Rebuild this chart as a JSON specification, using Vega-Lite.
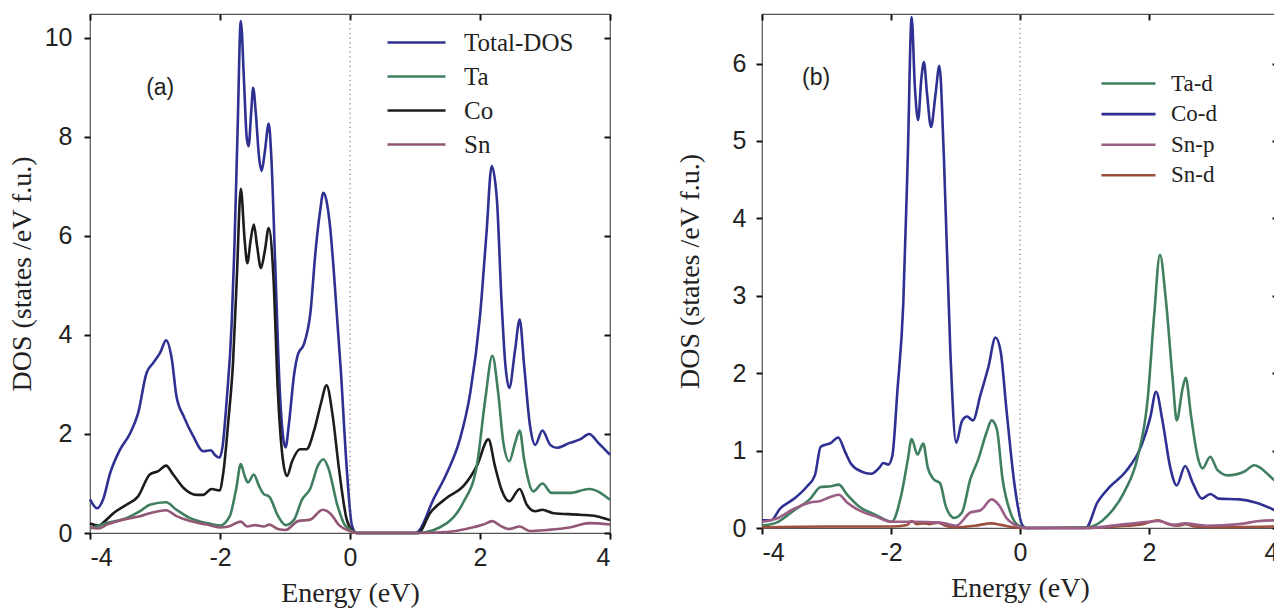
{
  "$schema": "https://vega.github.io/schema/vega-lite/v6.json",
  "background": "white",
  "padding": {"left": 7, "top": 11, "right": 0, "bottom": 0},
  "bounds": "flush",
  "spacing": 152,
  "config": {
    "locale": {"number": {"decimal": ".", "thousands": ",", "grouping": [3], "currency": ["$", ""], "minus": "-"}},
    "view": {"stroke": "#555555", "strokeWidth": 1.2},
    "font": "Liberation Sans",
    "axis": {
      "grid": false, "domain": false, "tickColor": "#111111", "tickWidth": 2, "tickSize": 6,
      "labelFont": "Liberation Sans", "labelFontSize": 25, "labelColor": "#222222",
      "titleFont": "Liberation Serif", "titleFontSize": 28, "titleFontWeight": "normal", "titleColor": "#222222"
    },
    "legend": {
      "orient": "none", "direction": "vertical", "padding": 0, "title": null,
      "symbolType": "M-3,0H3", "symbolStrokeWidth": 2.6,
      "labelFont": "Liberation Serif", "labelColor": "#222222"
    }
  },
  "datasets": {
    "a": [
      {"s":"Total-DOS","E":-4.0,"D":0.68},{"s":"Total-DOS","E":-3.89,"D":0.5},{"s":"Total-DOS","E":-3.8,"D":0.67},{"s":"Total-DOS","E":-3.69,"D":1.21},{"s":"Total-DOS","E":-3.54,"D":1.68},{"s":"Total-DOS","E":-3.38,"D":2.02},{"s":"Total-DOS","E":-3.26,"D":2.42},{"s":"Total-DOS","E":-3.13,"D":3.23},{"s":"Total-DOS","E":-3.03,"D":3.43},{"s":"Total-DOS","E":-2.92,"D":3.64},{"s":"Total-DOS","E":-2.83,"D":3.89},{"s":"Total-DOS","E":-2.74,"D":3.5},{"s":"Total-DOS","E":-2.67,"D":2.76},{"s":"Total-DOS","E":-2.56,"D":2.36},{"s":"Total-DOS","E":-2.41,"D":1.95},{"s":"Total-DOS","E":-2.26,"D":1.65},{"s":"Total-DOS","E":-2.14,"D":1.67},{"s":"Total-DOS","E":-2.08,"D":1.58},{"s":"Total-DOS","E":-2.01,"D":1.52},{"s":"Total-DOS","E":-1.96,"D":1.75},{"s":"Total-DOS","E":-1.9,"D":2.63},{"s":"Total-DOS","E":-1.82,"D":4.24},{"s":"Total-DOS","E":-1.78,"D":5.7},{"s":"Total-DOS","E":-1.73,"D":8.1},{"s":"Total-DOS","E":-1.68,"D":10.34},{"s":"Total-DOS","E":-1.63,"D":9.1},{"s":"Total-DOS","E":-1.59,"D":8.0},{"s":"Total-DOS","E":-1.56,"D":7.81},{"s":"Total-DOS","E":-1.52,"D":8.5},{"s":"Total-DOS","E":-1.49,"D":8.99},{"s":"Total-DOS","E":-1.45,"D":8.5},{"s":"Total-DOS","E":-1.4,"D":7.6},{"s":"Total-DOS","E":-1.36,"D":7.31},{"s":"Total-DOS","E":-1.31,"D":7.7},{"s":"Total-DOS","E":-1.25,"D":8.27},{"s":"Total-DOS","E":-1.21,"D":7.58},{"s":"Total-DOS","E":-1.15,"D":5.4},{"s":"Total-DOS","E":-1.08,"D":2.87},{"s":"Total-DOS","E":-1.02,"D":1.85},{"s":"Total-DOS","E":-0.99,"D":1.73},{"s":"Total-DOS","E":-0.94,"D":2.2},{"s":"Total-DOS","E":-0.86,"D":3.2},{"s":"Total-DOS","E":-0.8,"D":3.61},{"s":"Total-DOS","E":-0.71,"D":3.81},{"s":"Total-DOS","E":-0.61,"D":4.44},{"s":"Total-DOS","E":-0.53,"D":5.69},{"s":"Total-DOS","E":-0.46,"D":6.5},{"s":"Total-DOS","E":-0.41,"D":6.87},{"s":"Total-DOS","E":-0.36,"D":6.7},{"s":"Total-DOS","E":-0.3,"D":6.1},{"s":"Total-DOS","E":-0.25,"D":5.3},{"s":"Total-DOS","E":-0.14,"D":3.26},{"s":"Total-DOS","E":-0.05,"D":1.3},{"s":"Total-DOS","E":0.03,"D":0.15},{"s":"Total-DOS","E":0.1,"D":0.0},{"s":"Total-DOS","E":1.0,"D":0.0},{"s":"Total-DOS","E":1.05,"D":0.03},{"s":"Total-DOS","E":1.28,"D":0.67},{"s":"Total-DOS","E":1.49,"D":1.21},{"s":"Total-DOS","E":1.69,"D":1.89},{"s":"Total-DOS","E":1.85,"D":2.83},{"s":"Total-DOS","E":2.0,"D":4.38},{"s":"Total-DOS","E":2.1,"D":6.06},{"s":"Total-DOS","E":2.18,"D":7.41},{"s":"Total-DOS","E":2.26,"D":6.73},{"s":"Total-DOS","E":2.33,"D":4.71},{"s":"Total-DOS","E":2.39,"D":3.4},{"s":"Total-DOS","E":2.45,"D":2.93},{"s":"Total-DOS","E":2.54,"D":3.7},{"s":"Total-DOS","E":2.61,"D":4.31},{"s":"Total-DOS","E":2.68,"D":3.37},{"s":"Total-DOS","E":2.77,"D":2.16},{"s":"Total-DOS","E":2.85,"D":1.78},{"s":"Total-DOS","E":2.96,"D":2.07},{"s":"Total-DOS","E":3.08,"D":1.78},{"s":"Total-DOS","E":3.18,"D":1.72},{"s":"Total-DOS","E":3.38,"D":1.82},{"s":"Total-DOS","E":3.54,"D":1.89},{"s":"Total-DOS","E":3.68,"D":2.0},{"s":"Total-DOS","E":3.82,"D":1.82},{"s":"Total-DOS","E":4.0,"D":1.58},

      {"s":"Co","E":-4.0,"D":0.19},{"s":"Co","E":-3.87,"D":0.15},{"s":"Co","E":-3.77,"D":0.24},{"s":"Co","E":-3.64,"D":0.4},{"s":"Co","E":-3.44,"D":0.57},{"s":"Co","E":-3.26,"D":0.74},{"s":"Co","E":-3.08,"D":1.18},{"s":"Co","E":-2.95,"D":1.25},{"s":"Co","E":-2.83,"D":1.36},{"s":"Co","E":-2.72,"D":1.18},{"s":"Co","E":-2.56,"D":0.91},{"s":"Co","E":-2.36,"D":0.77},{"s":"Co","E":-2.26,"D":0.77},{"s":"Co","E":-2.13,"D":0.89},{"s":"Co","E":-2.01,"D":0.86},{"s":"Co","E":-1.95,"D":1.21},{"s":"Co","E":-1.87,"D":2.29},{"s":"Co","E":-1.8,"D":3.43},{"s":"Co","E":-1.74,"D":5.2},{"s":"Co","E":-1.68,"D":6.95},{"s":"Co","E":-1.62,"D":5.9},{"s":"Co","E":-1.58,"D":5.45},{"s":"Co","E":-1.53,"D":5.9},{"s":"Co","E":-1.48,"D":6.23},{"s":"Co","E":-1.43,"D":5.8},{"s":"Co","E":-1.37,"D":5.35},{"s":"Co","E":-1.31,"D":5.7},{"s":"Co","E":-1.25,"D":6.16},{"s":"Co","E":-1.18,"D":5.22},{"s":"Co","E":-1.11,"D":2.87},{"s":"Co","E":-1.03,"D":1.45},{"s":"Co","E":-0.97,"D":1.15},{"s":"Co","E":-0.89,"D":1.45},{"s":"Co","E":-0.77,"D":1.69},{"s":"Co","E":-0.67,"D":1.69},{"s":"Co","E":-0.55,"D":2.08},{"s":"Co","E":-0.45,"D":2.6},{"s":"Co","E":-0.36,"D":2.98},{"s":"Co","E":-0.27,"D":2.4},{"s":"Co","E":-0.17,"D":1.3},{"s":"Co","E":-0.05,"D":0.27},{"s":"Co","E":0.05,"D":0.03},{"s":"Co","E":0.1,"D":0.0},{"s":"Co","E":1.05,"D":0.0},{"s":"Co","E":1.23,"D":0.4},{"s":"Co","E":1.49,"D":0.71},{"s":"Co","E":1.74,"D":0.94},{"s":"Co","E":1.95,"D":1.35},{"s":"Co","E":2.13,"D":1.89},{"s":"Co","E":2.23,"D":1.35},{"s":"Co","E":2.33,"D":0.88},{"s":"Co","E":2.45,"D":0.64},{"s":"Co","E":2.61,"D":0.89},{"s":"Co","E":2.72,"D":0.57},{"s":"Co","E":2.85,"D":0.44},{"s":"Co","E":2.96,"D":0.47},{"s":"Co","E":3.13,"D":0.4},{"s":"Co","E":3.54,"D":0.37},{"s":"Co","E":3.79,"D":0.34},{"s":"Co","E":4.0,"D":0.26},

      {"s":"Ta","E":-4.0,"D":0.09},{"s":"Ta","E":-3.74,"D":0.2},{"s":"Ta","E":-3.44,"D":0.3},{"s":"Ta","E":-3.23,"D":0.44},{"s":"Ta","E":-3.08,"D":0.57},{"s":"Ta","E":-2.83,"D":0.62},{"s":"Ta","E":-2.67,"D":0.47},{"s":"Ta","E":-2.46,"D":0.3},{"s":"Ta","E":-2.2,"D":0.2},{"s":"Ta","E":-2.0,"D":0.15},{"s":"Ta","E":-1.85,"D":0.34},{"s":"Ta","E":-1.75,"D":0.9},{"s":"Ta","E":-1.68,"D":1.39},{"s":"Ta","E":-1.62,"D":1.15},{"s":"Ta","E":-1.57,"D":1.02},{"s":"Ta","E":-1.48,"D":1.18},{"s":"Ta","E":-1.4,"D":0.95},{"s":"Ta","E":-1.33,"D":0.79},{"s":"Ta","E":-1.24,"D":0.73},{"s":"Ta","E":-1.11,"D":0.35},{"s":"Ta","E":-0.99,"D":0.16},{"s":"Ta","E":-0.86,"D":0.27},{"s":"Ta","E":-0.74,"D":0.67},{"s":"Ta","E":-0.61,"D":0.9},{"s":"Ta","E":-0.49,"D":1.37},{"s":"Ta","E":-0.41,"D":1.49},{"s":"Ta","E":-0.33,"D":1.3},{"s":"Ta","E":-0.2,"D":0.59},{"s":"Ta","E":-0.08,"D":0.16},{"s":"Ta","E":0.05,"D":0.03},{"s":"Ta","E":0.1,"D":0.0},{"s":"Ta","E":1.05,"D":0.0},{"s":"Ta","E":1.49,"D":0.2},{"s":"Ta","E":1.74,"D":0.61},{"s":"Ta","E":1.95,"D":1.35},{"s":"Ta","E":2.08,"D":2.69},{"s":"Ta","E":2.19,"D":3.58},{"s":"Ta","E":2.28,"D":2.83},{"s":"Ta","E":2.36,"D":1.82},{"s":"Ta","E":2.45,"D":1.45},{"s":"Ta","E":2.54,"D":1.82},{"s":"Ta","E":2.61,"D":2.07},{"s":"Ta","E":2.68,"D":1.48},{"s":"Ta","E":2.82,"D":0.84},{"s":"Ta","E":2.96,"D":1.0},{"s":"Ta","E":3.1,"D":0.81},{"s":"Ta","E":3.38,"D":0.81},{"s":"Ta","E":3.68,"D":0.89},{"s":"Ta","E":4.0,"D":0.67},

      {"s":"Sn","E":-4.0,"D":0.11},{"s":"Sn","E":-3.87,"D":0.09},{"s":"Sn","E":-3.74,"D":0.17},{"s":"Sn","E":-3.49,"D":0.27},{"s":"Sn","E":-3.23,"D":0.34},{"s":"Sn","E":-3.08,"D":0.4},{"s":"Sn","E":-2.83,"D":0.46},{"s":"Sn","E":-2.67,"D":0.34},{"s":"Sn","E":-2.46,"D":0.24},{"s":"Sn","E":-2.2,"D":0.17},{"s":"Sn","E":-2.0,"D":0.11},{"s":"Sn","E":-1.87,"D":0.13},{"s":"Sn","E":-1.68,"D":0.23},{"s":"Sn","E":-1.58,"D":0.13},{"s":"Sn","E":-1.46,"D":0.16},{"s":"Sn","E":-1.33,"D":0.13},{"s":"Sn","E":-1.24,"D":0.17},{"s":"Sn","E":-1.11,"D":0.08},{"s":"Sn","E":-0.99,"D":0.06},{"s":"Sn","E":-0.8,"D":0.24},{"s":"Sn","E":-0.61,"D":0.27},{"s":"Sn","E":-0.42,"D":0.47},{"s":"Sn","E":-0.3,"D":0.39},{"s":"Sn","E":-0.17,"D":0.16},{"s":"Sn","E":0.0,"D":0.04},{"s":"Sn","E":0.1,"D":0.0},{"s":"Sn","E":1.0,"D":0.0},{"s":"Sn","E":1.49,"D":0.02},{"s":"Sn","E":1.85,"D":0.1},{"s":"Sn","E":2.05,"D":0.17},{"s":"Sn","E":2.19,"D":0.24},{"s":"Sn","E":2.31,"D":0.15},{"s":"Sn","E":2.45,"D":0.08},{"s":"Sn","E":2.61,"D":0.13},{"s":"Sn","E":2.77,"D":0.04},{"s":"Sn","E":3.03,"D":0.06},{"s":"Sn","E":3.38,"D":0.11},{"s":"Sn","E":3.68,"D":0.2},{"s":"Sn","E":4.0,"D":0.17}
    ],
    "b": [
      {"s":"Co-d","E":-4.0,"D":0.1},{"s":"Co-d","E":-3.86,"D":0.1},{"s":"Co-d","E":-3.72,"D":0.25},{"s":"Co-d","E":-3.5,"D":0.38},{"s":"Co-d","E":-3.31,"D":0.53},{"s":"Co-d","E":-3.18,"D":0.68},{"s":"Co-d","E":-3.09,"D":1.05},{"s":"Co-d","E":-2.93,"D":1.1},{"s":"Co-d","E":-2.82,"D":1.17},{"s":"Co-d","E":-2.71,"D":0.98},{"s":"Co-d","E":-2.62,"D":0.83},{"s":"Co-d","E":-2.46,"D":0.73},{"s":"Co-d","E":-2.31,"D":0.7},{"s":"Co-d","E":-2.18,"D":0.78},{"s":"Co-d","E":-2.12,"D":0.84},{"s":"Co-d","E":-2.04,"D":0.82},{"s":"Co-d","E":-1.98,"D":0.93},{"s":"Co-d","E":-1.9,"D":1.78},{"s":"Co-d","E":-1.81,"D":2.89},{"s":"Co-d","E":-1.74,"D":4.79},{"s":"Co-d","E":-1.68,"D":6.6},{"s":"Co-d","E":-1.63,"D":5.7},{"s":"Co-d","E":-1.58,"D":5.27},{"s":"Co-d","E":-1.53,"D":5.8},{"s":"Co-d","E":-1.49,"D":6.02},{"s":"Co-d","E":-1.44,"D":5.6},{"s":"Co-d","E":-1.38,"D":5.18},{"s":"Co-d","E":-1.31,"D":5.6},{"s":"Co-d","E":-1.25,"D":5.97},{"s":"Co-d","E":-1.18,"D":4.79},{"s":"Co-d","E":-1.08,"D":2.28},{"s":"Co-d","E":-0.99,"D":1.1},{"s":"Co-d","E":-0.9,"D":1.38},{"s":"Co-d","E":-0.82,"D":1.44},{"s":"Co-d","E":-0.73,"D":1.39},{"s":"Co-d","E":-0.61,"D":1.73},{"s":"Co-d","E":-0.49,"D":2.08},{"s":"Co-d","E":-0.38,"D":2.46},{"s":"Co-d","E":-0.3,"D":2.28},{"s":"Co-d","E":-0.21,"D":1.53},{"s":"Co-d","E":-0.08,"D":0.53},{"s":"Co-d","E":0.04,"D":0.03},{"s":"Co-d","E":0.1,"D":0.0},{"s":"Co-d","E":1.02,"D":0.0},{"s":"Co-d","E":1.2,"D":0.33},{"s":"Co-d","E":1.39,"D":0.53},{"s":"Co-d","E":1.64,"D":0.73},{"s":"Co-d","E":1.89,"D":1.08},{"s":"Co-d","E":2.02,"D":1.43},{"s":"Co-d","E":2.11,"D":1.76},{"s":"Co-d","E":2.21,"D":1.38},{"s":"Co-d","E":2.33,"D":0.78},{"s":"Co-d","E":2.43,"D":0.55},{"s":"Co-d","E":2.56,"D":0.8},{"s":"Co-d","E":2.68,"D":0.58},{"s":"Co-d","E":2.82,"D":0.38},{"s":"Co-d","E":2.95,"D":0.44},{"s":"Co-d","E":3.08,"D":0.38},{"s":"Co-d","E":3.4,"D":0.37},{"s":"Co-d","E":3.65,"D":0.33},{"s":"Co-d","E":3.95,"D":0.23},{"s":"Co-d","E":4.0,"D":0.21},

      {"s":"Ta-d","E":-4.0,"D":0.03},{"s":"Ta-d","E":-3.75,"D":0.08},{"s":"Ta-d","E":-3.5,"D":0.23},{"s":"Ta-d","E":-3.25,"D":0.38},{"s":"Ta-d","E":-3.09,"D":0.53},{"s":"Ta-d","E":-2.93,"D":0.54},{"s":"Ta-d","E":-2.81,"D":0.56},{"s":"Ta-d","E":-2.68,"D":0.43},{"s":"Ta-d","E":-2.5,"D":0.28},{"s":"Ta-d","E":-2.24,"D":0.17},{"s":"Ta-d","E":-1.99,"D":0.08},{"s":"Ta-d","E":-1.84,"D":0.43},{"s":"Ta-d","E":-1.74,"D":0.88},{"s":"Ta-d","E":-1.68,"D":1.15},{"s":"Ta-d","E":-1.59,"D":0.95},{"s":"Ta-d","E":-1.5,"D":1.09},{"s":"Ta-d","E":-1.43,"D":0.78},{"s":"Ta-d","E":-1.34,"D":0.63},{"s":"Ta-d","E":-1.24,"D":0.58},{"s":"Ta-d","E":-1.15,"D":0.28},{"s":"Ta-d","E":-1.02,"D":0.13},{"s":"Ta-d","E":-0.9,"D":0.2},{"s":"Ta-d","E":-0.77,"D":0.63},{"s":"Ta-d","E":-0.65,"D":0.88},{"s":"Ta-d","E":-0.52,"D":1.23},{"s":"Ta-d","E":-0.44,"D":1.39},{"s":"Ta-d","E":-0.36,"D":1.28},{"s":"Ta-d","E":-0.27,"D":0.63},{"s":"Ta-d","E":-0.14,"D":0.18},{"s":"Ta-d","E":-0.02,"D":0.03},{"s":"Ta-d","E":0.1,"D":0.0},{"s":"Ta-d","E":1.05,"D":0.01},{"s":"Ta-d","E":1.36,"D":0.16},{"s":"Ta-d","E":1.62,"D":0.47},{"s":"Ta-d","E":1.82,"D":0.9},{"s":"Ta-d","E":1.98,"D":1.67},{"s":"Ta-d","E":2.08,"D":2.75},{"s":"Ta-d","E":2.17,"D":3.53},{"s":"Ta-d","E":2.26,"D":2.96},{"s":"Ta-d","E":2.37,"D":1.89},{"s":"Ta-d","E":2.43,"D":1.39},{"s":"Ta-d","E":2.52,"D":1.8},{"s":"Ta-d","E":2.57,"D":1.94},{"s":"Ta-d","E":2.65,"D":1.46},{"s":"Ta-d","E":2.76,"D":0.9},{"s":"Ta-d","E":2.83,"D":0.77},{"s":"Ta-d","E":2.95,"D":0.92},{"s":"Ta-d","E":3.06,"D":0.75},{"s":"Ta-d","E":3.22,"D":0.68},{"s":"Ta-d","E":3.48,"D":0.73},{"s":"Ta-d","E":3.63,"D":0.81},{"s":"Ta-d","E":3.94,"D":0.62},{"s":"Ta-d","E":4.0,"D":0.58},

      {"s":"Sn-d","E":-4.0,"D":0.01},{"s":"Sn-d","E":-3.0,"D":0.02},{"s":"Sn-d","E":-2.0,"D":0.02},{"s":"Sn-d","E":-1.75,"D":0.04},{"s":"Sn-d","E":-1.68,"D":0.09},{"s":"Sn-d","E":-1.6,"D":0.05},{"s":"Sn-d","E":-1.5,"D":0.06},{"s":"Sn-d","E":-1.4,"D":0.05},{"s":"Sn-d","E":-1.27,"D":0.07},{"s":"Sn-d","E":-1.15,"D":0.03},{"s":"Sn-d","E":-1.0,"D":0.01},{"s":"Sn-d","E":-0.7,"D":0.03},{"s":"Sn-d","E":-0.44,"D":0.06},{"s":"Sn-d","E":-0.3,"D":0.04},{"s":"Sn-d","E":-0.1,"D":0.01},{"s":"Sn-d","E":0.1,"D":0.0},{"s":"Sn-d","E":1.0,"D":0.0},{"s":"Sn-d","E":1.5,"D":0.02},{"s":"Sn-d","E":1.9,"D":0.05},{"s":"Sn-d","E":2.14,"D":0.1},{"s":"Sn-d","E":2.3,"D":0.05},{"s":"Sn-d","E":2.45,"D":0.03},{"s":"Sn-d","E":2.57,"D":0.05},{"s":"Sn-d","E":2.7,"D":0.02},{"s":"Sn-d","E":3.0,"D":0.01},{"s":"Sn-d","E":4.0,"D":0.02},

      {"s":"Sn-p","E":-4.0,"D":0.08},{"s":"Sn-p","E":-3.75,"D":0.13},{"s":"Sn-p","E":-3.5,"D":0.25},{"s":"Sn-p","E":-3.25,"D":0.33},{"s":"Sn-p","E":-3.09,"D":0.35},{"s":"Sn-p","E":-2.97,"D":0.39},{"s":"Sn-p","E":-2.81,"D":0.43},{"s":"Sn-p","E":-2.68,"D":0.33},{"s":"Sn-p","E":-2.5,"D":0.23},{"s":"Sn-p","E":-2.24,"D":0.15},{"s":"Sn-p","E":-1.99,"D":0.08},{"s":"Sn-p","E":-1.68,"D":0.08},{"s":"Sn-p","E":-1.24,"D":0.07},{"s":"Sn-p","E":-0.99,"D":0.03},{"s":"Sn-p","E":-0.77,"D":0.2},{"s":"Sn-p","E":-0.61,"D":0.23},{"s":"Sn-p","E":-0.44,"D":0.37},{"s":"Sn-p","E":-0.33,"D":0.3},{"s":"Sn-p","E":-0.21,"D":0.13},{"s":"Sn-p","E":-0.02,"D":0.02},{"s":"Sn-p","E":0.1,"D":0.0},{"s":"Sn-p","E":1.02,"D":0.0},{"s":"Sn-p","E":1.64,"D":0.05},{"s":"Sn-p","E":1.99,"D":0.08},{"s":"Sn-p","E":2.14,"D":0.09},{"s":"Sn-p","E":2.4,"D":0.04},{"s":"Sn-p","E":2.55,"D":0.06},{"s":"Sn-p","E":2.9,"D":0.03},{"s":"Sn-p","E":3.4,"D":0.05},{"s":"Sn-p","E":3.71,"D":0.09},{"s":"Sn-p","E":4.0,"D":0.1}
    ]
  },
  "resolve": {"scale": {"color": "independent", "strokeWidth": "independent"}},
  "hconcat": [
    {
      "width": 520, "height": 519,
      "layer": [
        {
          "data": {"name": "a"},
          "mark": {"type": "line", "interpolate": "monotone"},
          "encoding": {
            "x": {"field": "E", "type": "quantitative", "scale": {"domain": [-4, 4], "nice": false, "zero": false},
                  "axis": {"orient": "bottom", "values": [-4, -2, 0, 2, 4], "format": "d", "title": "Energy (eV)", "labelPadding": 6, "titlePadding": 9}},
            "y": {"field": "D", "type": "quantitative", "scale": {"domain": [0, 10.48], "nice": false},
                  "axis": {"orient": "left", "values": [0, 2, 4, 6, 8, 10], "title": "DOS (states /eV f.u.)", "labelPadding": 12, "titlePadding": 8}},
            "color": {"field": "s", "type": "nominal",
                      "scale": {"domain": ["Total-DOS", "Ta", "Co", "Sn"], "range": ["#2e3192", "#3f7f5f", "#1c1c1c", "#915775"]},
                      "legend": {"legendX": 314, "legendY": 16, "symbolSize": 374, "labelFontSize": 25, "labelOffset": 35, "rowPadding": 8}},
            "strokeWidth": {"field": "s", "type": "ordinal", "scale": {"domain": ["Total-DOS", "Ta", "Co", "Sn"], "range": [2.6, 2.6, 2.6, 3.6]}, "legend": null}
          }
        },
        {
          "data": {"values": [{}]},
          "mark": {"type": "rule", "color": "#777777", "strokeWidth": 1.2, "strokeDash": [1.2, 3.5]},
          "encoding": {
            "x": {"datum": 0, "type": "quantitative", "axis": {"orient": "top", "values": [-4, -2, 0, 2, 4], "labels": false, "title": null, "tickSize": -6}}
          }
        },
        {
          "data": {"values": [{}]},
          "mark": {"type": "text", "font": "Liberation Sans", "fontSize": 23, "color": "#222222", "align": "center", "baseline": "middle"},
          "encoding": {
            "x": {"datum": -2.92, "type": "quantitative", "axis": null},
            "y": {"datum": 8.99, "type": "quantitative", "axis": {"orient": "right", "values": [0, 2, 4, 6, 8, 10], "labels": false, "title": null, "tickSize": -6}},
            "text": {"value": "(a)"}
          }
        }
      ],
      "resolve": {"axis": {"x": "independent", "y": "independent"}}
    },
    {
      "width": 516, "height": 514,
      "layer": [
        {
          "data": {"name": "b"},
          "mark": {"type": "line", "interpolate": "monotone", "strokeWidth": 2.6},
          "encoding": {
            "x": {"field": "E", "type": "quantitative", "scale": {"domain": [-4, 4], "nice": false, "zero": false},
                  "axis": {"orient": "bottom", "values": [-4, -2, 0, 2, 4], "format": "d", "title": "Energy (eV)", "labelPadding": 6, "titlePadding": 9}},
            "y": {"field": "D", "type": "quantitative", "scale": {"domain": [0, 6.64], "nice": false},
                  "axis": {"orient": "left", "values": [0, 1, 2, 3, 4, 5, 6], "title": "DOS (states /eV f.u.)", "labelPadding": 10, "titlePadding": 28}},
            "color": {"field": "s", "type": "nominal",
                      "scale": {"domain": ["Ta-d", "Co-d", "Sn-p", "Sn-d"], "range": ["#3f7f5f", "#2e3192", "#9a5e86", "#9c4f3c"]},
                      "legend": {"legendX": 355, "legendY": 58, "symbolSize": 324, "labelFontSize": 23, "labelOffset": 31, "rowPadding": 6.6}}
          }
        },
        {
          "data": {"values": [{}]},
          "mark": {"type": "rule", "color": "#777777", "strokeWidth": 1.2, "strokeDash": [1.2, 3.5]},
          "encoding": {
            "x": {"datum": 0, "type": "quantitative", "axis": {"orient": "top", "values": [-4, -2, 0, 2, 4], "labels": false, "title": null, "tickSize": -6}}
          }
        },
        {
          "data": {"values": [{}]},
          "mark": {"type": "text", "font": "Liberation Sans", "fontSize": 23, "color": "#222222", "align": "center", "baseline": "middle"},
          "encoding": {
            "x": {"datum": -3.16, "type": "quantitative", "axis": null},
            "y": {"datum": 5.81, "type": "quantitative", "axis": {"orient": "right", "values": [0, 1, 2, 3, 4, 5, 6], "labels": false, "title": null, "tickSize": -6}},
            "text": {"value": "(b)"}
          }
        }
      ],
      "resolve": {"axis": {"x": "independent", "y": "independent"}}
    }
  ]
}
